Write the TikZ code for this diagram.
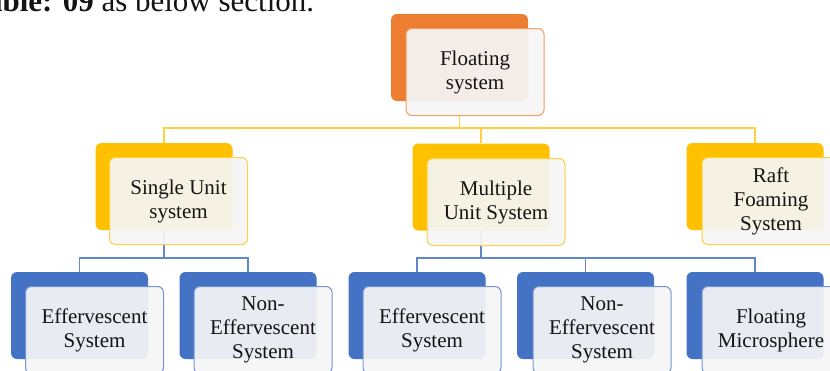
\documentclass[tikz,border=0pt]{standalone}
\usepackage{fontspec}
\setmainfont{Liberation Serif}
\definecolor{rootc}{HTML}{ED7D31}
\definecolor{midc}{HTML}{FFC000}
\definecolor{leafc}{HTML}{4472C4}
\definecolor{panel}{HTML}{F5F5F5}
\tikzset{
  backbox/.style={draw=none, fill=#1, rounded corners=6pt,
    minimum width=137pt, minimum height=87pt, inner sep=0pt},
  frontbox/.style={draw=#1!75, line width=1pt, fill=panel, fill opacity=0.93,
    text opacity=1, rounded corners=6pt, minimum width=138pt, minimum height=87pt,
    inner sep=0pt, align=center, text=black!92,
    font=\fontsize{21}{24}\selectfont},
  link/.style={draw=#1, line width=1.4pt},
}
\begin{document}
\begin{tikzpicture}[x=1pt, y=-1pt]
  \useasboundingbox (0,0) rectangle (830,370);
  \clip (0,0) rectangle (830,370);

  % running text line above the chart
  \node[anchor=base west, inner sep=0pt, font=\fontsize{31}{32}\selectfont,
        text=black!92] (caption) at (-31,11) {\textbf{Table: 09} as below section.};

  % bus levels
  \coordinate (busA) at (0,128);
  \coordinate (busB) at (0,258);
  \coordinate (busC) at (0,258);

  % coloured back panels
  \node[backbox=rootc] (r)  at (459.5,57.5) {};
  \node[backbox=midc]  (s1) at (164,186.5) {};
  \node[backbox=midc]  (s2) at (481,187) {};
  \node[backbox=midc]  (s3) at (755,186.5) {};
  \node[backbox=leafc] (a1) at (79.5,315.5) {};
  \node[backbox=leafc] (a2) at (248,315.5) {};
  \node[backbox=leafc] (b1) at (417,315.5) {};
  \node[backbox=leafc] (b2) at (585.5,315.5) {};
  \node[backbox=leafc] (b3) at (755,315.5) {};

  % connectors
  \draw[link=midc!75] (r.south) -- (r.south |- busA) -| (s1.north);
  \draw[link=midc!75] (r.south |- busA) -| (s2.north);
  \draw[link=midc!75] (r.south |- busA) -| (s3.north);

  \draw[link=leafc!85] (s1.south) -- (s1.south |- busB) -| (a1.north);
  \draw[link=leafc!85] (s1.south |- busB) -| (a2.north);

  \draw[link=leafc!85] (s2.south) -- (s2.south |- busC) -| (b1.north);
  \draw[link=leafc!85] (s2.south |- busC) -| (b2.north);
  \draw[link=leafc!85] (s2.south |- busC) -| (b3.north);

  % translucent front panels with labels
  \node[frontbox=rootc] (rt)  at (475,72)    {Floating\\system};
  \node[frontbox=midc]  (s1t) at (178.5,201) {Single Unit\\system};
  \node[frontbox=midc]  (s2t) at (496,202)   {Multiple\\Unit System};
  \node[frontbox=midc]  (s3t) at (771,201)   {Raft\\Foaming\\System};
  \node[frontbox=leafc] (a1t) at (94.5,330)  {Effervescent\\System};
  \node[frontbox=leafc] (a2t) at (263,330)   {Non-\\Effervescent\\System};
  \node[frontbox=leafc] (b1t) at (432,330)   {Effervescent\\System};
  \node[frontbox=leafc] (b2t) at (602,330)   {Non-\\Effervescent\\System};
  \node[frontbox=leafc] (b3t) at (771,330)   {Floating\\Microsphere};
\end{tikzpicture}
\end{document}
